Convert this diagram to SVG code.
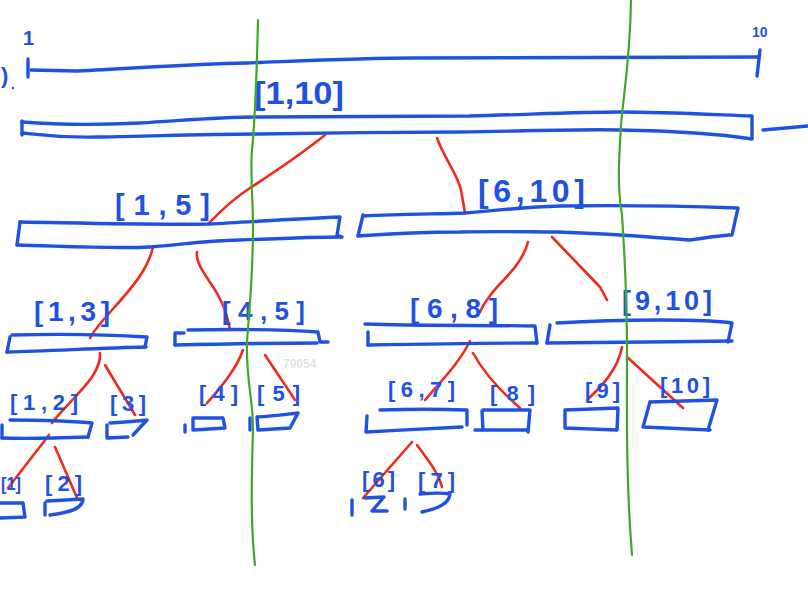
<svg xmlns="http://www.w3.org/2000/svg" width="808" height="592" viewBox="0 0 808 592">
<style>
.b{fill:none;stroke:#1f52e2;stroke-width:3.4;stroke-linecap:round;stroke-linejoin:round}
.r{fill:none;stroke:#ee2b1c;stroke-width:2.6;stroke-linecap:round;stroke-linejoin:round}
.g{fill:none;stroke:#3ea82a;stroke-width:2.2;stroke-linecap:round}
.t{font-family:"Liberation Sans",Arial,sans-serif;fill:#1f52e2;font-weight:bold}
.wm{font-family:"Liberation Sans",Arial,sans-serif;fill:#e2e2e2;font-size:12px;font-weight:bold}
</style>
<rect width="808" height="592" fill="#ffffff"/>

<g id="axis">
  <path class="b" d="M31,70 L77,71 C140,68 190,64 247,63 C300,61 360,58 412,58 L758,57"/>
  <path class="b" d="M28,59 L28,77"/>
  <path class="b" d="M760,50 L757,76"/>
  <text class="t" x="23" y="45" font-size="20">1</text>
  <text class="t" x="752" y="37" font-size="14">10</text>
  <text class="t" x="1" y="83" font-size="22">)</text>
  <circle cx="13" cy="88" r="1.2" fill="#1f52e2"/>
</g>

<g id="connectors">
  <path class="r" d="M325,135 C300,155 270,175 250,188 S220,212 209,223"/>
  <path class="r" d="M437,138 C445,160 458,175 461,190 L465,213"/>
  <path class="r" d="M153,247 C148,270 130,290 112,310 S95,330 90,338"/>
  <path class="r" d="M197,252 C195,265 210,280 218,295 S228,320 230,330"/>
  <path class="r" d="M528,242 C522,265 502,280 492,293 S482,308 480,312"/>
  <path class="r" d="M552,237 L600,287 L607,300"/>
  <path class="r" d="M100,353 C101,370 86,385 76,396 S58,415 52,423"/>
  <path class="r" d="M105,365 L135,415"/>
  <path class="r" d="M243,350 C236,370 220,388 207,403"/>
  <path class="r" d="M265,355 L295,400"/>
  <path class="r" d="M49,435 L8,488"/>
  <path class="r" d="M55,447 L78,500"/>
  <path class="r" d="M470,341 C458,365 440,382 425,400"/>
  <path class="r" d="M473,353 C485,375 505,395 520,408"/>
  <path class="r" d="M622,347 C618,370 600,388 587,400"/>
  <path class="r" d="M627,357 L683,408"/>
  <path class="r" d="M412,442 L363,498"/>
  <path class="r" d="M417,445 C428,460 438,472 442,487"/>
</g>

<g id="n1-10">
  <path class="b" d="M22,122 C60,125 100,125 140,123 C190,120 220,117 260,117 C350,117 420,116 470,116 C540,114 580,112 620,112 C660,112 700,114 752,116 L752,138"/>
  <path class="b" d="M22,133 C40,135 60,138 100,137 C160,136 200,134 260,134 C320,133 400,132 460,132 C530,131 580,129 620,130 C680,131 720,134 752,139"/>
  <path class="b" d="M22,121 L22,135"/>
  <path class="b" d="M763,130 L808,126"/>
  <text class="t" x="254" y="104" font-size="32" textLength="90" lengthAdjust="spacingAndGlyphs">[1,10]</text>
</g>

<g id="n1-5">
  <path class="b" d="M20,222 C80,223 150,225 209,224 C250,222 290,219 340,217 L337,235 L342,237"/>
  <path class="b" d="M17,245 C60,246 110,249 150,247 C180,245 200,241 240,240 C290,238 320,237 341,237"/>
  <path class="b" d="M20,222 L17,245"/>
  <text class="t" x="115" y="215" font-size="29" textLength="95" lengthAdjust="spacing">[1,5]</text>
</g>

<g id="n6-10">
  <path class="b" d="M363,216 C400,214 440,214 465,213 C500,210 525,207 560,206 C620,205 680,206 738,208 L732,235"/>
  <path class="b" d="M358,236 C400,233 430,232 460,232 C500,231 530,232 557,232 C620,234 660,238 690,240 C705,238 715,236 730,235"/>
  <path class="b" d="M363,215 L358,236"/>
  <text class="t" x="478" y="202" font-size="32" textLength="107" lengthAdjust="spacing">[6,10]</text>
</g>

<g id="n1-3">
  <path class="b" d="M12,335 C50,334 100,334 147,337 L145,347"/>
  <path class="b" d="M7,352 C50,351 100,348 146,347"/>
  <path class="b" d="M10,337 L7,352"/>
  <text class="t" x="34" y="321" font-size="28" textLength="76" lengthAdjust="spacing">[1,3]</text>
</g>

<g id="n4-5">
  <path class="b" d="M188,330 C240,329 290,330 318,332 L320,342 L328,342"/>
  <path class="b" d="M175,345 C220,344 280,343 317,343"/>
  <path class="b" d="M175,333 L175,345 M175,333 L184,333"/>
  <text class="t" x="222" y="320" font-size="26" textLength="83" lengthAdjust="spacing">[4,5]</text>
</g>

<g id="n6-8">
  <path class="b" d="M365,324 C420,326 480,325 535,326 L537,343"/>
  <path class="b" d="M368,345 C420,344 480,343 537,343"/>
  <path class="b" d="M368,332 L368,345"/>
  <text class="t" x="410" y="318" font-size="28" textLength="88" lengthAdjust="spacing">[6,8]</text>
</g>

<g id="n9-10">
  <path class="b" d="M557,323 C590,321 617,320 660,320 C700,320 720,321 732,323 L728,342"/>
  <path class="b" d="M547,343 C600,342 670,342 732,341"/>
  <path class="b" d="M550,325 L547,343"/>
  <text class="t" x="622" y="310" font-size="27" textLength="90" lengthAdjust="spacing">[9,10]</text>
</g>

<g id="n1-2">
  <path class="b" d="M10,420 C40,420 70,421 92,423 L88,437"/>
  <path class="b" d="M2,438 C30,439 60,438 88,437"/>
  <path class="b" d="M2,425 L2,438"/>
  <text class="t" x="10" y="410" font-size="22" textLength="68" lengthAdjust="spacing">[1,2]</text>
</g>

<g id="n3">
  <path class="b" d="M110,423 C125,422 138,421 147,420 L133,435"/>
  <path class="b" d="M107,425 L107,438 L128,437"/>
  <text class="t" x="110" y="411" font-size="22" textLength="36" lengthAdjust="spacing">[3]</text>
</g>

<g id="n4">
  <path class="b" d="M185,425 L185,432"/>
  <path class="b" d="M193,418 L223,418 L225,428 L193,430 L193,418"/>
  <text class="t" x="199" y="401" font-size="22" textLength="39" lengthAdjust="spacing">[4]</text>
</g>

<g id="n5">
  <path class="b" d="M250,418 L250,430"/>
  <path class="b" d="M257,417 C275,416 288,414 298,413 L290,428 L258,430 L257,417"/>
  <text class="t" x="257" y="401" font-size="22" textLength="43" lengthAdjust="spacing">[5]</text>
</g>

<g id="n6-7">
  <path class="b" d="M380,410 C410,409 440,409 467,410 L467,425"/>
  <path class="b" d="M367,432 C400,430 440,428 462,427"/>
  <path class="b" d="M367,416 L366,432"/>
  <text class="t" x="388" y="397" font-size="22" textLength="67" lengthAdjust="spacing">[6,7]</text>
</g>

<g id="n8">
  <path class="b" d="M483,410 L530,410 L528,432"/>
  <path class="b" d="M482,411 L483,430 M475,430 L527,430"/>
  <text class="t" x="490" y="401" font-size="22" textLength="45" lengthAdjust="spacing">[8]</text>
</g>

<g id="n9">
  <path class="b" d="M565,410 L618,408 L617,430 L565,428 Z"/>
  <text class="t" x="585" y="398" font-size="22" textLength="35" lengthAdjust="spacing">[9]</text>
</g>

<g id="n10">
  <path class="b" d="M650,402 L717,400 L708,430"/>
  <path class="b" d="M650,402 L643,427 L710,430"/>
  <text class="t" x="660" y="393" font-size="22" textLength="50" lengthAdjust="spacing">[10]</text>
</g>

<g id="n1">
  <path class="b" d="M0,503 L23,503 L25,517 L0,518"/>
  <text class="t" x="1" y="490" font-size="19" textLength="20" lengthAdjust="spacingAndGlyphs">[1]</text>
</g>

<g id="n2">
  <path class="b" d="M45,503 L45,515"/>
  <path class="b" d="M47,501 L83,499 C83,507 74,512 50,515"/>
  <text class="t" x="45" y="491" font-size="22" textLength="37" lengthAdjust="spacing">[2]</text>
</g>

<g id="n6">
  <path class="b" d="M352,500 L352,515"/>
  <path class="b" d="M365,498 L384,497 L372,511 L387,511"/>
  <text class="t" x="362" y="487" font-size="22" textLength="33" lengthAdjust="spacing">[6]</text>
</g>

<g id="n7">
  <path class="b" d="M405,499 L405,509"/>
  <path class="b" d="M420,494 C432,493 444,493 450,494 C449,503 440,508 422,512"/>
  <text class="t" x="418" y="488" font-size="22" textLength="37" lengthAdjust="spacing">[7]</text>
</g>

<g id="cuts">
  <path class="g" d="M258,20 C257,60 256,110 252,150 C250,170 253,200 253,227 C253,280 249,310 247,343 C246,380 253,400 253,427 C252,470 250,520 255,565"/>
  <path class="g" d="M631,0 C630,60 624,90 621,125 C619,160 617,185 622,215 C625,260 627,300 627,350 C627,420 626,480 632,555"/>
</g>

<text class="wm" x="283" y="368">79054</text>
</svg>
